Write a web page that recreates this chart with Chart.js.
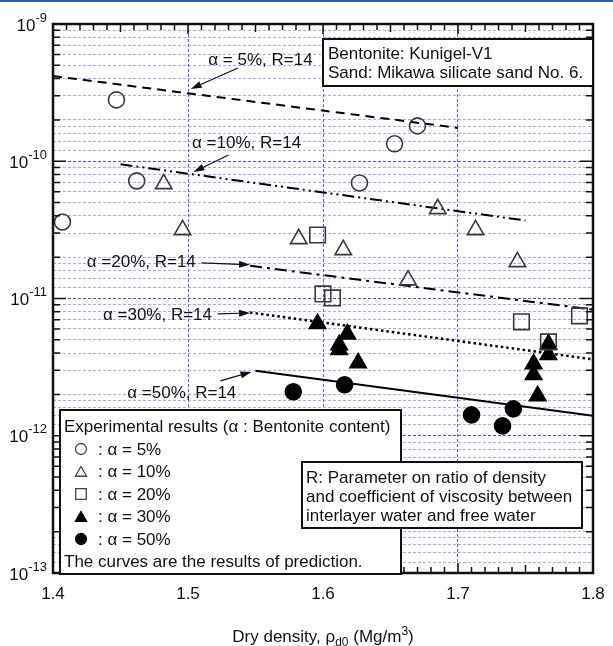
<!DOCTYPE html>
<html>
<head>
<meta charset="utf-8">
<script src="https://cdn.jsdelivr.net/npm/chart.js@4.4.1/dist/chart.umd.min.js"></script>
<style>
  html, body { margin: 0; padding: 0; background: #fff; }
  #wrap { position: relative; width: 613px; height: 646px; }
  #topbar { position: absolute; left: 0; top: 0; width: 613px; height: 2px; background: #2a64c0; }
</style>
</head>
<body>
<div id="wrap"><canvas id="c" width="613" height="646"></canvas><div id="topbar"></div></div>
<script>
// measured points, dry density (Mg/m3) vs value
const d5x  = [1.447, 1.462, 1.407, 1.670, 1.653, 1.627];
const d5y  = [2.80e-10, 7.19e-11, 3.61e-11, 1.81e-10, 1.34e-10, 6.95e-11];
const d10x = [1.482, 1.496, 1.582, 1.615, 1.663, 1.685, 1.713, 1.744];
const d10y = [6.84e-11, 3.16e-11, 2.72e-11, 2.26e-11, 1.36e-11, 4.50e-11, 3.16e-11, 1.85e-11];
const d20x = [1.596, 1.600, 1.607, 1.747, 1.790, 1.767];
const d20y = [2.90e-11, 1.08e-11, 1.01e-11, 6.76e-12, 7.47e-12, 4.83e-12];
const d30x = [1.596, 1.618, 1.612, 1.612, 1.626, 1.756, 1.756, 1.759, 1.767, 1.767];
const d30y = [6.54e-12, 5.50e-12, 4.59e-12, 4.23e-12, 3.39e-12, 3.34e-12, 2.78e-12, 1.95e-12, 4.64e-12, 3.89e-12];
const d50x = [1.578, 1.616, 1.710, 1.733, 1.741];
const d50y = [2.09e-12, 2.35e-12, 1.42e-12, 1.18e-12, 1.57e-12];

// predicted curves (R=14)
const p5x  = [1.40, 1.70];   const p5y  = [4.18e-10, 1.75e-10];
const p10x = [1.45, 1.75];   const p10y = [9.5e-11, 3.7e-11];
const p20x = [1.546, 1.80];  const p20y = [1.73e-11, 8.3e-12];
const p30x = [1.546, 1.80];  const p30y = [7.9e-12, 3.6e-12];
const p50x = [1.55, 1.80];   const p50y = [2.97e-12, 1.40e-12];

// axes
const xTicks = [1.4, 1.5, 1.6, 1.7, 1.8];
const xTickLabels = ['1.4', '1.5', '1.6', '1.7', '1.8'];
const yExponents = [-9, -10, -11, -12, -13];
const gridSignificands = [1, 1.2, 1.4, 1.6, 1.8, 2, 3, 4, 5, 6, 7, 8, 9];

const FONT = '"Liberation Sans", Arial, sans-serif';

const toPts = (xs, ys) => xs.map((x, i) => ({ x: x, y: ys[i] }));

// labels with arrow, in data coordinates
const notes = [
  { text: 'α = 5%, R=14',  tx: 1.515, ty: 5.47e-10, ax: 1.537, ay: 4.78e-10, hx: 1.502, hy: 3.36e-10 },
  { text: 'α =10%, R=14', tx: 1.503, ty: 1.36e-10, ax: 1.530, ay: 1.11e-10, hx: 1.504, hy: 8.35e-11 },
  { text: 'α =20%, R=14', tx: 1.425, ty: 1.82e-11, ax: 1.510, ay: 1.82e-11, hx: 1.546, hy: 1.76e-11 },
  { text: 'α =30%, R=14', tx: 1.437, ty: 7.6e-12,  ax: 1.522, ay: 7.72e-12, hx: 1.546, hy: 7.85e-12 },
  { text: 'α =50%, R=14', tx: 1.455, ty: 2.05e-12, ax: 1.524, ay: 2.51e-12, hx: 1.547, hy: 2.92e-12 }
];

function arrow(ctx, x1, y1, x2, y2) {
  const ang = Math.atan2(y2 - y1, x2 - x1);
  const L = 11, W = 3.5;
  ctx.beginPath();
  ctx.moveTo(x1, y1);
  ctx.lineTo(x2 - Math.cos(ang) * L, y2 - Math.sin(ang) * L);
  ctx.stroke();
  ctx.beginPath();
  ctx.moveTo(x2, y2);
  ctx.lineTo(x2 - Math.cos(ang) * L - Math.sin(ang) * W, y2 - Math.sin(ang) * L + Math.cos(ang) * W);
  ctx.lineTo(x2 - Math.cos(ang) * L + Math.sin(ang) * W, y2 - Math.sin(ang) * L - Math.cos(ang) * W);
  ctx.closePath();
  ctx.fill();
}

function box(ctx, x, y, w, h) {
  ctx.fillStyle = '#fff';
  ctx.fillRect(x, y, w, h);
  ctx.strokeStyle = '#111';
  ctx.lineWidth = 2;
  ctx.strokeRect(x, y, w, h);
}

const decorPlugin = {
  id: 'decor',
  afterDraw(chart) {
    const ctx = chart.ctx;
    const xs = chart.scales.x, ys = chart.scales.y;
    const { left, right, top, bottom } = chart.chartArea;
    ctx.save();
    ctx.strokeStyle = '#111';
    ctx.fillStyle = '#111';

    // tick marks pointing inward
    ctx.lineWidth = 1.5;
    ctx.beginPath();
    for (let i = 0; i <= 40; i++) {
      const px = xs.getPixelForValue(1.4 + i * 0.01);
      const len = i % 10 === 0 ? 10 : (i % 5 === 0 ? 8 : 6);
      ctx.moveTo(px, top); ctx.lineTo(px, top + len);
      ctx.moveTo(px, bottom); ctx.lineTo(px, bottom - len);
    }
    for (let e = -13; e <= -9; e++) {
      for (let s = 1; s <= 9; s++) {
        if (e === -9 && s > 1) break;
        const py = ys.getPixelForValue(s * Math.pow(10, e));
        const len = s === 1 ? 13 : 7;
        ctx.moveTo(left, py); ctx.lineTo(left + len, py);
        ctx.moveTo(right, py); ctx.lineTo(right - len, py);
      }
    }
    ctx.stroke();

    // frame
    ctx.lineWidth = 2.5;
    ctx.strokeRect(left, top, right - left, bottom - top);

    // x tick labels
    ctx.font = '17px ' + FONT;
    ctx.textAlign = 'center';
    ctx.textBaseline = 'middle';
    xTicks.forEach((v, i) => ctx.fillText(xTickLabels[i], xs.getPixelForValue(v), bottom + 21));

    // y tick labels 10^n
    yExponents.forEach(e => {
      const py = ys.getPixelForValue(Math.pow(10, e));
      const sup = String(e);
      ctx.font = '13px ' + FONT;
      const ws = ctx.measureText(sup).width;
      ctx.textAlign = 'left';
      ctx.fillText(sup, 47 - ws, py - 6);
      ctx.font = '17px ' + FONT;
      ctx.textAlign = 'right';
      ctx.fillText('10', 47 - ws, py + 2);
    });

    // x axis title
    const parts = [
      { t: 'Dry density, ρ', f: 17, dy: 0 },
      { t: 'd0', f: 12, dy: 4 },
      { t: ' (Mg/m', f: 17, dy: 0 },
      { t: '3', f: 12, dy: -7 },
      { t: ')', f: 17, dy: 0 }
    ];
    let tw = 0;
    parts.forEach(p => { ctx.font = p.f + 'px ' + FONT; p.w = ctx.measureText(p.t).width; tw += p.w; });
    let cx = (left + right) / 2 - tw / 2;
    ctx.textAlign = 'left';
    ctx.textBaseline = 'alphabetic';
    parts.forEach(p => { ctx.font = p.f + 'px ' + FONT; ctx.fillText(p.t, cx, 642 + p.dy); cx += p.w; });

    // annotation labels with arrows
    ctx.font = '17px ' + FONT;
    ctx.textBaseline = 'middle';
    ctx.lineWidth = 1.2;
    notes.forEach(n => {
      ctx.fillText(n.text, xs.getPixelForValue(n.tx), ys.getPixelForValue(n.ty));
      arrow(ctx, xs.getPixelForValue(n.ax), ys.getPixelForValue(n.ay),
                 xs.getPixelForValue(n.hx), ys.getPixelForValue(n.hy));
    });

    // material box
    box(ctx, 323, 39, right - 323, 47);
    ctx.fillStyle = '#111';
    ctx.fillText('Bentonite: Kunigel-V1', 328, 54);
    ctx.fillText('Sand: Mikawa silicate sand No. 6.', 328, 73);

    // legend box
    box(ctx, 60, 410, 341, bottom + 1 - 410);
    ctx.fillStyle = '#111';
    ctx.fillText('Experimental results (α : Bentonite content)', 64, 427);
    const rows = [
      { s: 'circle', r: 5.5, fill: false, t: ': α = 5%' },
      { s: 'triangle', r: 6.5, fill: false, t: ': α = 10%' },
      { s: 'rect', r: 7.5, fill: false, t: ': α = 20%' },
      { s: 'triangle', r: 6.5, fill: true, t: ': α = 30%' },
      { s: 'circle', r: 5.5, fill: true, t: ': α = 50%' }
    ];
    rows.forEach((r, i) => {
      const y = 449 + i * 22.5;
      ctx.save();
      ctx.lineWidth = 1.3;
      ctx.strokeStyle = r.fill ? '#000' : '#444';
      ctx.fillStyle = r.fill ? '#000' : 'rgba(0,0,0,0)';
      Chart.helpers.drawPoint(ctx, { pointStyle: r.s, radius: r.r, rotation: 0, borderWidth: 1.3 }, 81, y + (r.s === 'triangle' ? 1.5 : 0));
      ctx.restore();
      ctx.fillText(r.t, 98, y + 1);
    });
    ctx.fillText('The curves are the results of prediction.', 64, 562);

    // R box
    box(ctx, 302, 462, 280, 66);
    ctx.fillStyle = '#111';
    ctx.fillText('R: Parameter on ratio of density', 306, 478);
    ctx.fillText('and coefficient of viscosity between', 306, 497);
    ctx.fillText('interlayer water and free water', 306, 516);

    ctx.restore();
  }
};

const lineDs = (xs, ys, dash, w) => ({
  data: toPts(xs, ys), showLine: true, pointRadius: 0, borderColor: '#000',
  borderWidth: w, borderDash: dash, fill: false
});
const markDs = (xs, ys, style, r, filled) => ({
  data: toPts(xs, ys), showLine: false, pointStyle: style, pointRadius: r,
  pointBorderWidth: 1.6, borderColor: filled ? '#000' : '#3a3a3a',
  pointBorderColor: filled ? '#000' : '#3a3a3a',
  pointBackgroundColor: filled ? '#000' : 'rgba(0,0,0,0)'
});

new Chart(document.getElementById('c'), {
  type: 'scatter',
  data: {
    datasets: [
      markDs(d5x, d5y, 'circle', 8, false),
      markDs(d10x, d10y, 'triangle', 9.5, false),
      markDs(d20x, d20y, 'rect', 11, false),
      markDs(d30x, d30y, 'triangle', 9.5, true),
      markDs(d50x, d50y, 'circle', 8, true),
      lineDs(p5x, p5y, [9, 6], 2),
      lineDs(p10x, p10y, [12, 4, 2, 4, 2, 4], 2),
      lineDs(p20x, p20y, [12, 5, 3, 5], 2),
      lineDs(p30x, p30y, [2.5, 3], 2.5),
      lineDs(p50x, p50y, [], 2)
    ]
  },
  options: {
    responsive: false,
    animation: false,
    layout: { padding: { left: 53, right: 20, top: 24, bottom: 73 } },
    plugins: { legend: { display: false }, tooltip: { enabled: false } },
    scales: {
      x: {
        type: 'linear', min: 1.4, max: 1.8,
        afterBuildTicks: s => { s.ticks = xTicks.map(v => ({ value: v })); },
        ticks: { display: false },
        grid: { drawTicks: false, lineWidth: 1, color: '#5c5cff' },
        border: { display: false, dash: [3, 2] }
      },
      y: {
        type: 'logarithmic', min: 1e-13, max: 1e-9,
        afterBuildTicks: s => {
          const t = [];
          for (let e = -13; e < -9; e++) gridSignificands.forEach(m => t.push({ value: m * Math.pow(10, e), major: m === 1 }));
          t.push({ value: 1e-9, major: true });
          s.ticks = t;
        },
        ticks: { display: false },
        grid: {
          drawTicks: false, lineWidth: 1,
          color: c => (c.tick && c.tick.major) ? '#4a4aff' : 'rgba(110,110,255,0.6)'
        },
        border: { display: false, dash: [3, 2] }
      }
    }
  },
  plugins: [decorPlugin]
});
</script>
</body>
</html>
